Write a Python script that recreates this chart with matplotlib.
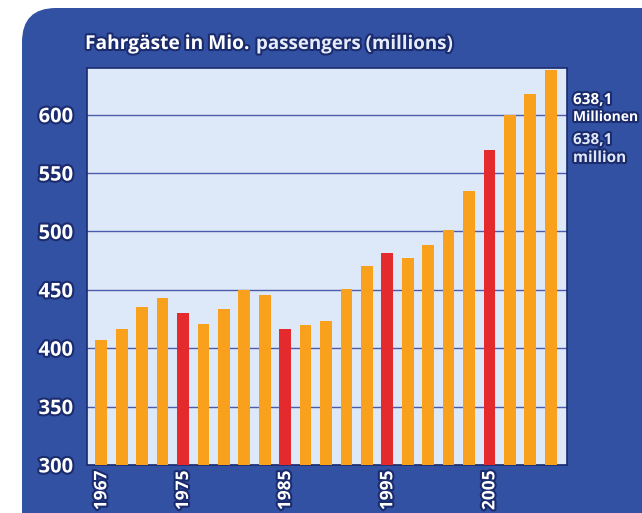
import matplotlib
matplotlib.use('Agg')
import matplotlib.pyplot as plt
import matplotlib.patheffects as pe
from matplotlib.patches import FancyBboxPatch

# passenger numbers (millions), every second year
years = [1967, 1969, 1971, 1973, 1975, 1977, 1979, 1981, 1983, 1985, 1987, 1989,
         1991, 1993, 1995, 1997, 1999, 2001, 2003, 2005, 2007, 2009, 2011]
passengers = [407, 416.5, 435, 443, 430, 420.5, 434, 450, 445.5, 416.5, 419.5, 423.5,
              451, 470, 481.5, 477, 488, 501.5, 534.5, 569.5, 599.5, 617.5, 638.1]
highlight = [1975, 1985, 1995, 2005]
xtick_years = [1967, 1975, 1985, 1995, 2005]
yticks = [300, 350, 400, 450, 500, 550, 600]

panel_blue = '#3351a2'
navy = '#1a2b6e'
orange = '#f9a11c'
red = '#e42a2c'

plt.rcParams['font.family'] = ['Open Sans', 'DejaVu Sans']
outline = [pe.withStroke(linewidth=3, foreground=navy)]

fig = plt.figure(figsize=(6.42, 5.13), dpi=100)
fig.patch.set_facecolor('white')

# rounded blue panel drawn in pixel units
bg = fig.add_axes([0, 0, 1, 1])
bg.set_xlim(0, 642)
bg.set_ylim(513, 0)
bg.axis('off')
bg.add_patch(FancyBboxPatch((22, 8), 700, 600, boxstyle='round,pad=0,rounding_size=34',
                            facecolor=panel_blue, edgecolor='none'))

ax = fig.add_axes([87 / 642, 1 - 465 / 513, 480 / 642, 397 / 513])
ax.set_facecolor('#dde8f8')
colors = [red if y in highlight else orange for y in years]
ax.bar(years, passengers, width=1.15, color=colors, zorder=3)
ax.set_xlim(1965.6, 2012.6)
ax.set_ylim(300, 640)
ax.set_yticks(yticks)
ax.set_xticks(xtick_years)
ax.yaxis.grid(True, color='#4b5cab', linewidth=1.0, zorder=1)
for s in ax.spines.values():
    s.set_color(navy)
    s.set_linewidth(1.2)
ax.tick_params(length=0)
for lab in ax.get_yticklabels():
    lab.set_color('white')
    lab.set_fontweight('bold')
    lab.set_fontsize(14.5)
    lab.set_path_effects(outline)
for lab in ax.get_xticklabels():
    lab.set_color('white')
    lab.set_fontweight('bold')
    lab.set_fontsize(12.5)
    lab.set_rotation(90)
    lab.set_path_effects(outline)
ax.tick_params(axis='x', pad=4)
ax.tick_params(axis='y', pad=10)

# title
bg.text(85, 44, 'Fahrgäste in Mio.', color='white', fontsize=13.8, fontweight='bold',
        va='center', ha='left', path_effects=outline)
bg.text(256, 44, 'passengers (millions)', color='#e6ecfa', fontsize=13.5, fontweight='bold',
        va='center', ha='left', path_effects=outline)

# value annotation on the right
bg.text(573, 100, '638,1', color='white', fontsize=11, fontweight='bold',
        va='center', ha='left', path_effects=outline)
bg.text(573, 117, 'Millionen', color='white', fontsize=10, fontweight='bold',
        va='center', ha='left', path_effects=outline)
bg.text(573, 140, '638,1', color='#dfe7f8', fontsize=11, fontweight='bold',
        va='center', ha='left', path_effects=outline)
bg.text(573, 158, 'million', color='#dfe7f8', fontsize=11, fontweight='bold',
        va='center', ha='left', path_effects=outline)

fig.savefig('out.png', dpi=100, facecolor=fig.get_facecolor())
